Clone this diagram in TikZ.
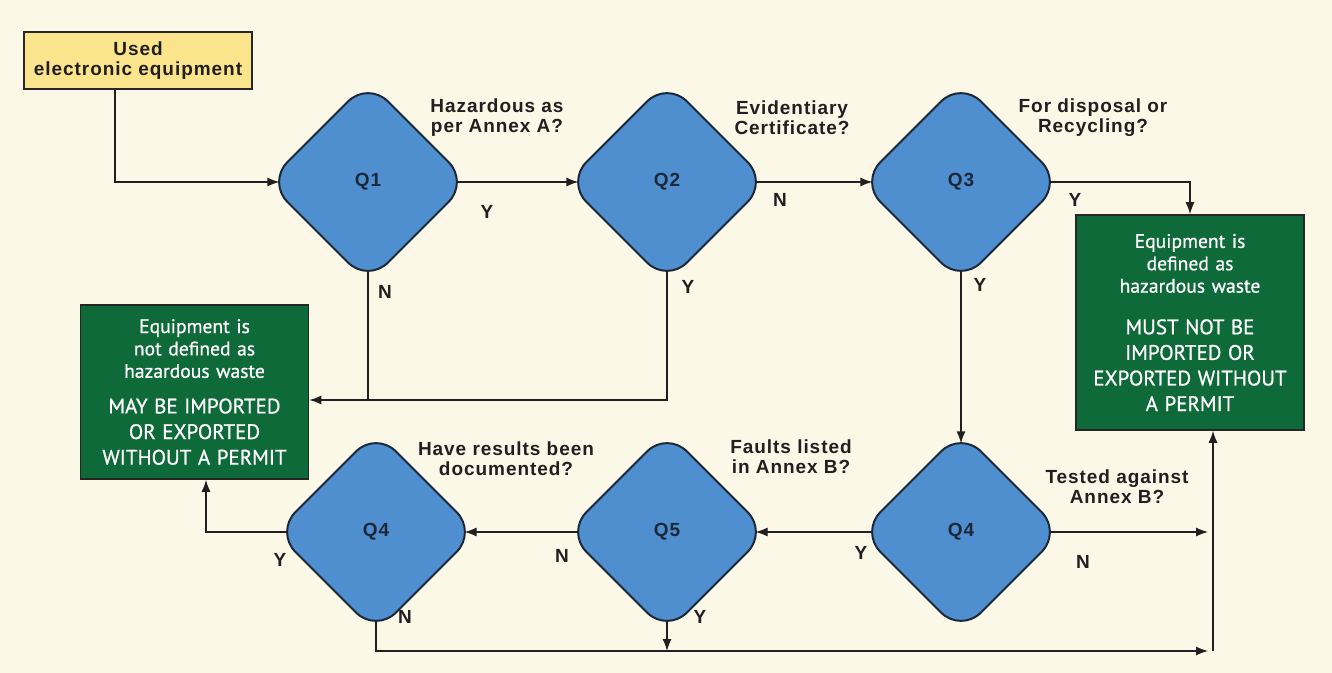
\documentclass[tikz,border=0pt]{standalone}
\usepackage{fontspec}
\setmainfont{Liberation Sans}
\newfontfamily\boxfont[FakeBold=0.8]{PT Sans}
\usetikzlibrary{shapes.geometric,arrows.meta,calc}
\definecolor{paper}{HTML}{FCF8E7}
\definecolor{qblue}{HTML}{4F8FD0}
\definecolor{qedge}{HTML}{1C2838}
\definecolor{okgreen}{HTML}{0E6A38}
\definecolor{startyellow}{HTML}{FAE48C}
\definecolor{ink}{HTML}{231F20}
\newcommand\verdictbig{\fontsize{10.5}{12.8}\selectfont}
\tikzset{
  labelfont/.style={font=\bfseries\fontsize{9.5}{10}\selectfont\addfontfeature{LetterSpace=5}},
  qtext/.style={labelfont, text=ink, align=center, inner sep=0pt},
  yn/.style={labelfont, text=ink, inner sep=0pt},
  qnode/.style={diamond, draw=qedge, line width=1pt, fill=qblue, rounded corners=14pt,
    minimum width=97pt, minimum height=97pt, inner sep=0pt, outer sep=-4.2pt,
    labelfont, text=qedge},
  startbox/.style={draw=black!85, line width=1pt, fill=startyellow, labelfont, text=ink,
    minimum width=114pt, minimum height=28.5pt, align=center, inner sep=0pt},
  verdict/.style={draw=black!85, line width=0.8pt, fill=okgreen, text=white,
    font=\boxfont\fontsize{9.8}{11.2}\selectfont, align=center, text width=106pt,
    inner xsep=4pt, inner ysep=0pt},
  link/.style={draw=ink, line width=0.6pt, -{Latex[length=6pt,width=4.5pt]}},
  wire/.style={draw=ink, line width=0.6pt}
}
\begin{document}
\begin{tikzpicture}[x=0.5pt,y=-0.5pt]
  \fill[paper] (0,0) rectangle (1332,673);
  \useasboundingbox (0,0) rectangle (1332,673);

  \node[startbox] (start) at (138,60.5) {Used\\electronic equipment};
  \foreach \name/\x/\y/\txt in {q1/368/182/Q1, q2/667/182/Q2, q3/961/182/Q3,
      q4a/376/532/Q4, q5/667/532/Q5, q4b/961/532/Q4}
    \node[qnode] (\name) at (\x,\y) {\txt};

  \node[verdict, minimum height=107.5pt] (haz) at (1190,322.5) {%
    Equipment is\\ defined as\\ hazardous waste\par\vspace{8pt}
    \verdictbig MUST NOT BE\\ IMPORTED OR\\ EXPORTED WITHOUT\\ A PERMIT\par};
  \node[verdict, minimum height=87pt] (nothaz) at (194.5,392) {%
    Equipment is\\ not defined as\\ hazardous waste\par\vspace{5pt}
    \verdictbig MAY BE IMPORTED\\ OR EXPORTED\\ WITHOUT A PERMIT\par};

  \foreach \name/\x/\y/\txt in {ask1/497/118/{Hazardous as\\per Annex A?},
      ask2/792/118/{Evidentiary\\Certificate?}, ask3/1093/118/{For disposal or\\Recycling?},
      ask4a/506/459/{Have results been\\documented?}, ask5/791/457/{Faults listed\\in Annex B?},
      ask4b/1117/487/{Tested against\\Annex B?}}
    \node[qtext] (\name) at (\x,\y) {\txt};

  \foreach \name/\x/\y/\txt in {y1/487/212/Y, n2/780/200/N, y3/1075/200/Y,
      n1/385/292/N, y2/688/287/Y, y3b/980/285/Y, y4b/861/553/Y, n4b/1083/562/N,
      n5/562/556/N, y4a/280/560/Y, n4a/405/617/N, y5/700/617/Y}
    \node[yn] (\name) at (\x,\y) {\txt};

  \coordinate (bend) at (115,182);
  \coordinate (join) at ($(nothaz.east)+(0,8)$);
  \coordinate (upturn) at (206,532);
  \coordinate (railin) at (1208,651);
  \coordinate (rail) at (1213,651);

  \draw[link] (start.south -| bend) -- (bend) -- (q1.west);
  \draw[link] (q1.east) -- (q2.west);
  \draw[link] (q2.east) -- (q3.west);
  \draw[link] (q3.east) -| (haz.north);
  \draw[wire] (q1.south) -- (q1.south |- join);
  \draw[link] (q2.south) |- (join);
  \draw[link] (q3.south) -- (q4b.north);
  \draw[link] (q4b.west) -- (q5.east);
  \draw[link] (q4b.east) -- (q4b.east -| railin);
  \draw[link] (q5.west) -- (q4a.east);
  \draw[link] (q4a.west) -- (upturn) -- (upturn |- nothaz.south);
  \draw[link] (q4a.south) |- (railin);
  \draw[link] (q5.south) -- (q5.south |- railin);
  \draw[link] (rail) -- (rail |- haz.south);
\end{tikzpicture}
\end{document}
